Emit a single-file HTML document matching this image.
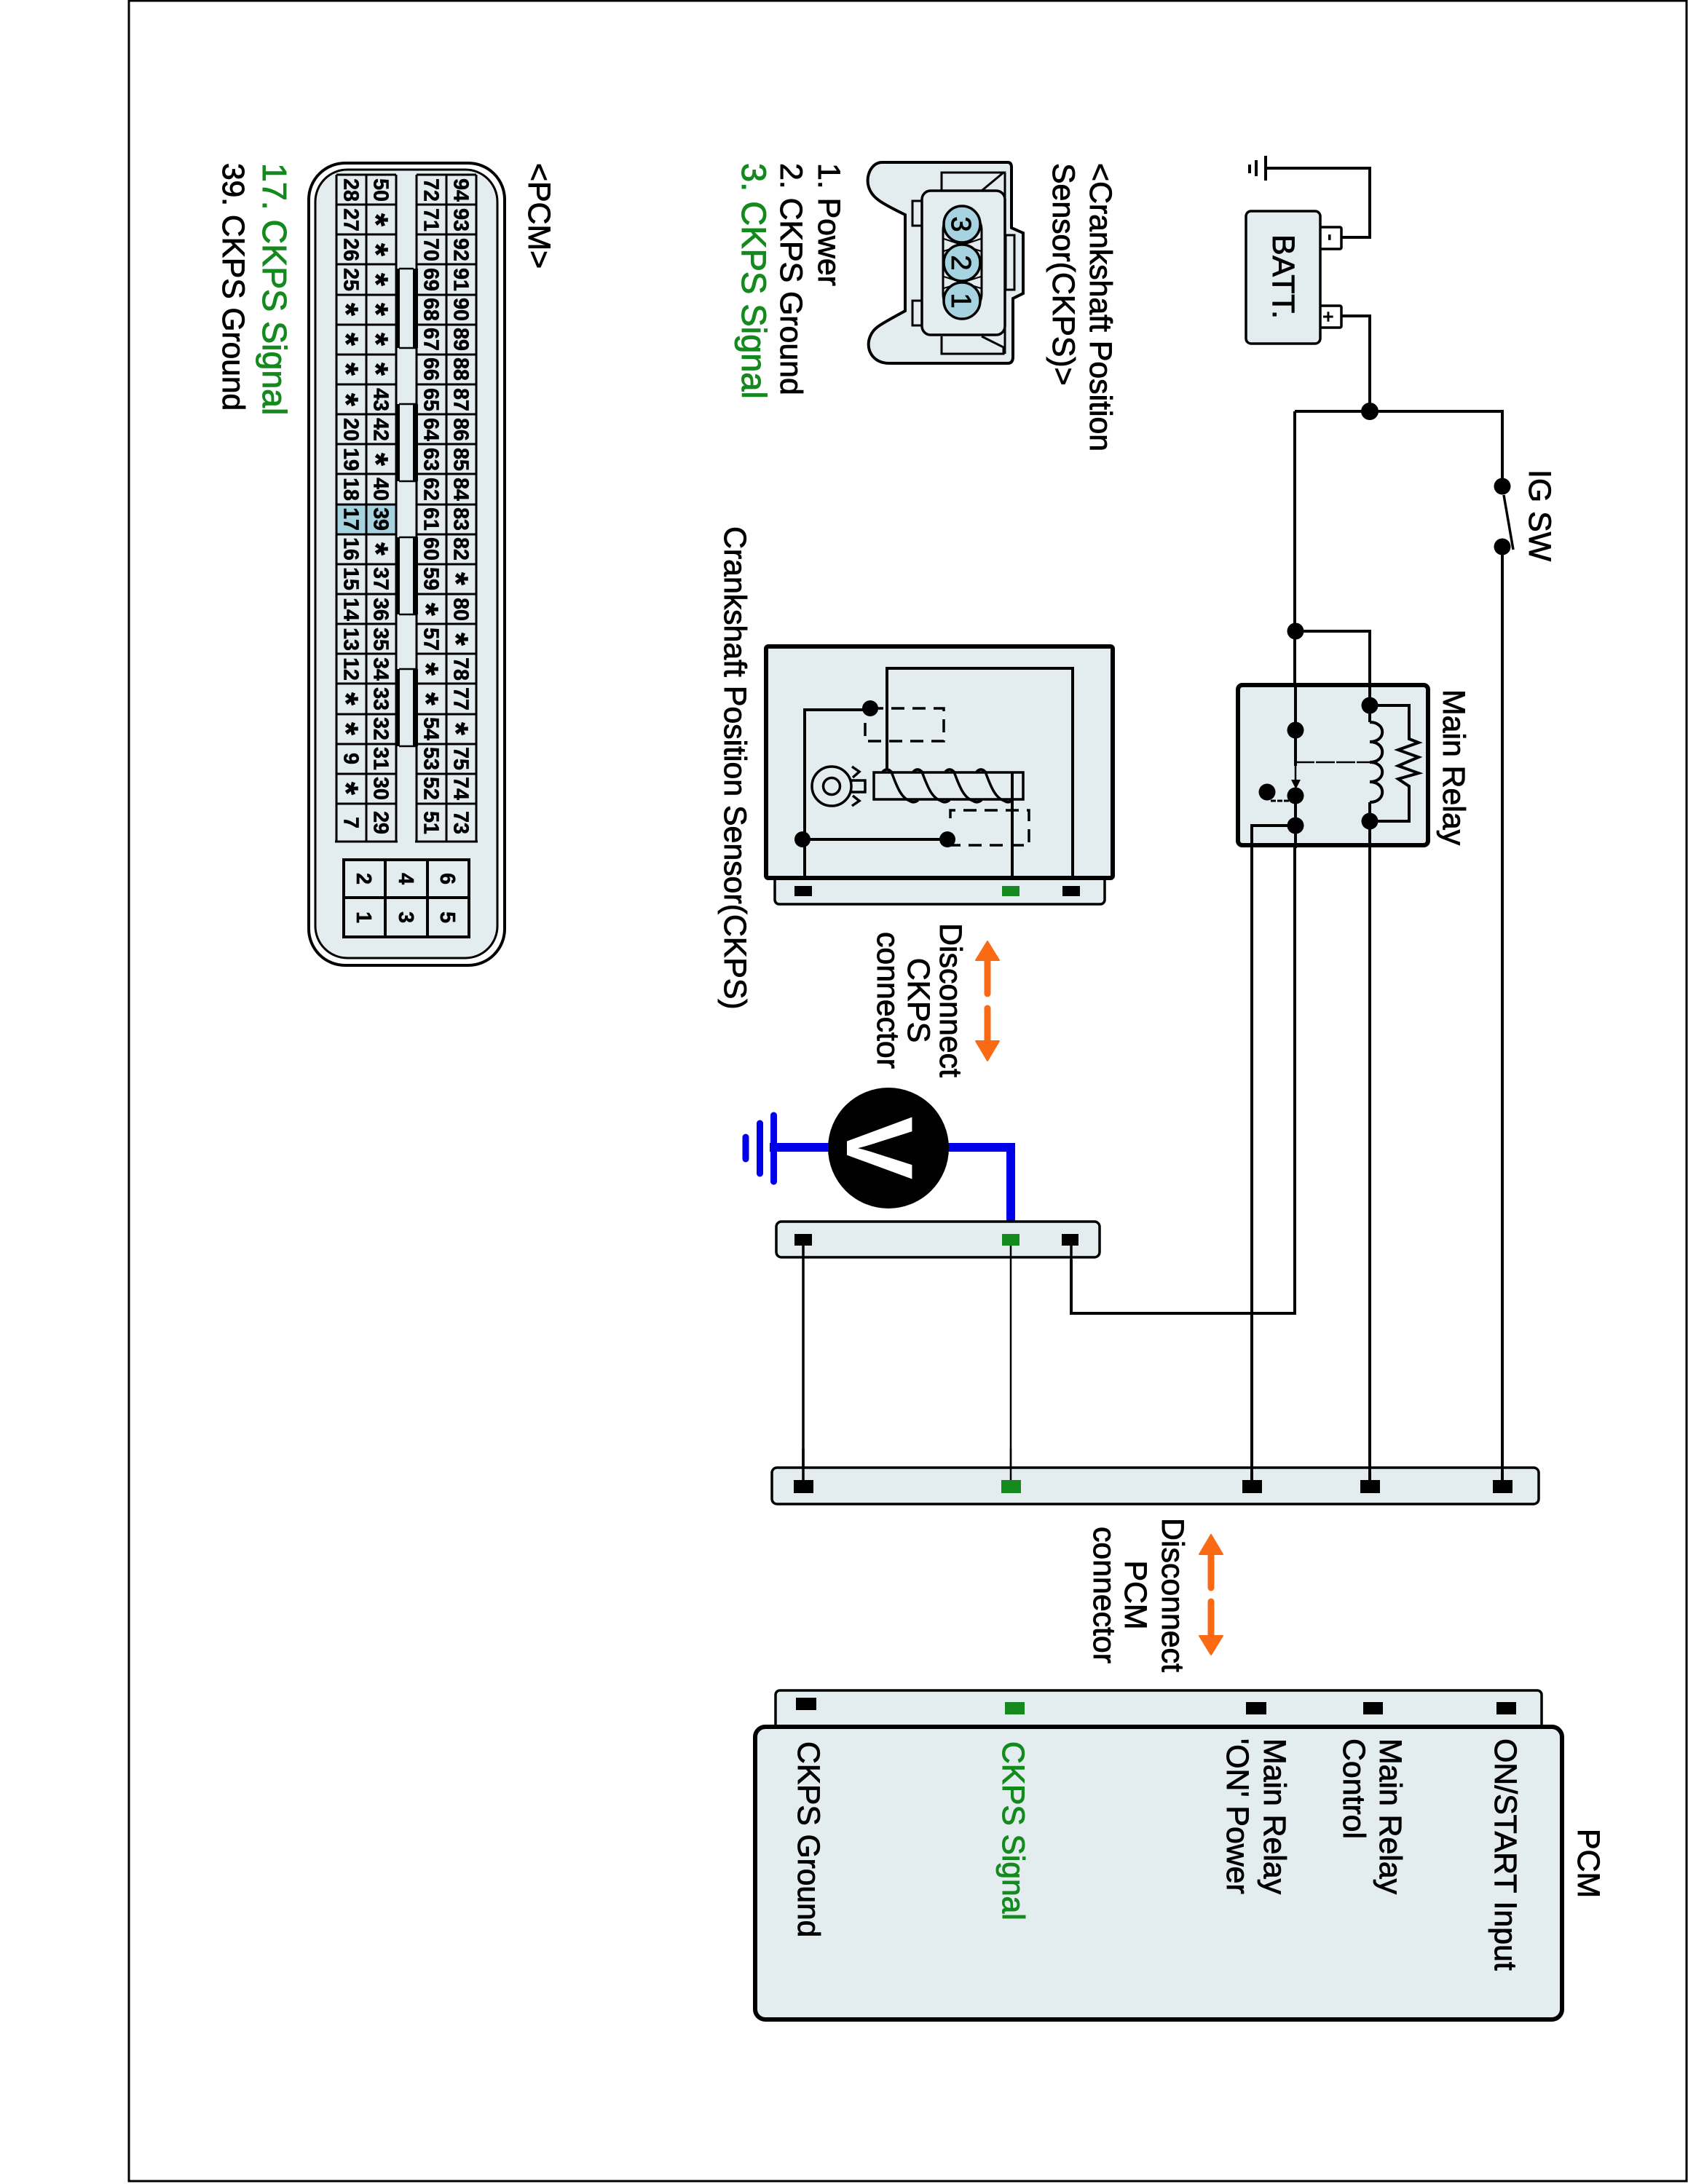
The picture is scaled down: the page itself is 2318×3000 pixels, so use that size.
<!DOCTYPE html>
<html><head><meta charset="utf-8"><style>
html,body{margin:0;padding:0;background:#fff}
svg{display:block}
text{font-family:"Liberation Sans",sans-serif;font-size:42.8px;fill:#000}
.s{stroke:#000;stroke-width:.9}
.g{fill:#148a1e;stroke:#148a1e;stroke-width:1}
.n{font-weight:bold;font-size:28.5px;text-anchor:middle;stroke:#000;stroke-width:.6}
.a{font-weight:bold;font-size:46px;text-anchor:middle;stroke:#000;stroke-width:.6}
.w{fill:none;stroke:#000;stroke-width:4}
.b{fill:#e3ecee;stroke:#000}
.d{fill:#000}
</style></head><body>
<svg xmlns="http://www.w3.org/2000/svg" width="2318" height="3000" viewBox="0 0 2318 3000">
<rect width="2318" height="3000" fill="#fff"/>
<rect x="177" y="1" width="2139" height="2995" fill="none" stroke="#000" stroke-width="3"/>

<!-- PCM pinout -->
<rect x="424" y="224" width="269" height="1102" rx="50" fill="#fff" stroke="#000" stroke-width="4"/>
<rect x="433" y="233" width="250" height="1083" rx="44" class="b" stroke-width="3"/>
<rect x="462" y="693" width="82" height="41" fill="#a6d3df"/>
<path d="M462 240H544M462 281H544M462 322H544M462 363H544M462 405H544M462 446H544M462 487H544M462 528H544M462 569H544M462 610H544M462 651H544M462 693H544M462 734H544M462 775H544M462 816H544M462 857H544M462 898H544M462 939H544M462 981H544M462 1022H544M462 1063H544M462 1104H544M460 1156H546M462 240V1156M503 240V1156M544 240V1156" class="w" style="stroke-width:3"/>
<path d="M572 240H654M572 281H654M572 322H654M572 363H654M572 405H654M572 446H654M572 487H654M572 528H654M572 569H654M572 610H654M572 651H654M572 693H654M572 734H654M572 775H654M572 816H654M572 857H654M572 898H654M572 939H654M572 981H654M572 1022H654M572 1063H654M572 1104H654M570 1156H656M572 240V1156M613 240V1156M654 240V1156" class="w" style="stroke-width:3"/>
<g class="d">
<rect x="543" y="369" width="6" height="109"/><rect x="567" y="369" width="7" height="109"/>
<rect x="543" y="555" width="6" height="106"/><rect x="567" y="555" width="7" height="106"/>
<rect x="543" y="738" width="6" height="106"/><rect x="567" y="738" width="7" height="106"/>
<rect x="543" y="919" width="6" height="106"/><rect x="567" y="919" width="7" height="106"/>
</g>
<path d="M548 369H568M548 478H572M548 555H572M548 661H572M548 738H572M548 844H572M548 919H572M548 1025H572" class="w" style="stroke-width:2.5"/>
<path d="M472 1181H644V1287H472ZM529 1181V1287M587 1181V1287M472 1233H644" class="w"/>

<!-- Sensor connector pinout -->
<path d="M1211 223H1384Q1389 223 1389 230V313L1405 320V403L1391 410V490Q1391 499 1384 499H1221C1197 499 1188 478 1195 462C1200 450 1208 446 1243 427V295C1208 278 1200 272 1195 262C1186 245 1196 223 1211 223Z" class="b" stroke-width="4"/>
<path d="M1293 262V237H1378L1348 262M1293 462V486H1378V477L1348 462M1380 237V486" class="w" style="stroke-width:3"/>
<rect x="1253" y="276" width="13" height="34" class="b" stroke-width="3"/>
<rect x="1253" y="413" width="13" height="34" class="b" stroke-width="3"/>
<rect x="1381" y="323" width="12" height="75" class="b" stroke-width="3"/>
<rect x="1266" y="262" width="114" height="198" rx="12" class="b" stroke-width="3.5"/>
<rect x="1295" y="290" width="53" height="140" rx="26" class="b" stroke-width="3"/>
<path d="M1296 328L1347 345M1347 328L1296 345M1296 380L1347 396M1347 380L1296 396" class="w" style="stroke-width:2"/>
<g fill="#a6d3df" stroke="#000" stroke-width="3.5">
<circle cx="1321" cy="308" r="25"/><circle cx="1321" cy="361" r="25"/><circle cx="1321" cy="413" r="25"/>
</g>

<!-- Wires upper -->
<path d="M1738 231H1881V326H1841M1841 434H1881V565M1778 565H2063V2040M1778 565V1804H1471V1730M1778 867H1881V2040M1719 2040V1134H1779" class="w"/>
<path d="M1738 214V248" class="w"/>
<path d="M1725 220V242" class="w"/>
<path d="M1716 226V238" class="w"/>
<rect x="2040" y="660" width="46" height="84" fill="#fff"/>
<path d="M2065 680L2078 755" class="w" style="stroke-width:3.5"/>
<rect x="1812" y="312" width="30" height="30" rx="2" fill="#fff" stroke="#000" stroke-width="3.5"/>
<rect x="1812" y="420" width="30" height="30" rx="2" fill="#fff" stroke="#000" stroke-width="3.5"/>
<rect x="1711" y="290" width="102" height="182" rx="7" class="b" stroke-width="3.5"/>

<!-- Relay -->
<rect x="1700" y="941" width="261" height="220" rx="6" class="b" stroke-width="6"/>
<path d="M1719 2040V1134H1779M1779 940V1052M1779 1090V1165M1881 940V992M1881 1102V1165" class="w"/>
<path d="M1881 992c23 0 23 27 0 27M1881 1019c23 0 23 28 0 28M1881 1047c23 0 23 27 0 27M1881 1074c23 0 23 28 0 28M1881 969H1935V1015L1948 1020L1920 1030L1948 1040L1920 1052L1948 1062L1920 1070L1935 1080V1128H1881" class="w"/>
<path d="M1779 1047H1885" class="w" style="stroke-width:2.5;stroke-dasharray:26 2"/>
<path d="M1779 1052V1072" class="w" style="stroke-width:2.5"/>
<path d="M1745 1100H1772" class="w" style="stroke-width:3;stroke-dasharray:7 2"/>
<path d="M1773 1071H1786L1779.500 1084Z" class="d"/>

<!-- Sensor -->
<rect x="1064" y="1190" width="453" height="52" rx="6" class="b" stroke-width="3.5"/>
<rect x="1052" y="888" width="476" height="318" rx="3" class="b" stroke-width="6"/>
<path d="M1105 1208V975H1195M1218 1058V918H1473V1208M1390 1061V1208M1105 1153H1301" class="w"/>
<path d="M1195 973H1296V1018H1188V985" class="w" style="stroke-width:3.5;stroke-dasharray:18 11"/>
<path d="M1301 1161H1413V1113H1305V1135" class="w" style="stroke-width:3.5;stroke-dasharray:18 11"/>
<rect x="1200" y="1061" width="205" height="37" fill="none" stroke="#000" stroke-width="3.500"/>
<path d="M1212 1060Q1218 1054 1224 1060C1232 1082 1238 1096 1249 1100Q1255 1104 1261 1099M1254 1060Q1260 1054 1266 1060C1274 1082 1280 1096 1292 1100Q1298 1104 1304 1099M1298 1060Q1304 1054 1310 1060C1318 1082 1324 1096 1336 1100Q1342 1104 1348 1099M1341 1060Q1347 1054 1353 1060C1361 1082 1367 1096 1379 1100Q1385 1104 1391 1099" class="w" style="stroke-width:3.5"/>
<circle cx="1142" cy="1080" r="27" fill="none" stroke="#000" stroke-width="3.5"/>
<circle cx="1142" cy="1080" r="11.500" fill="none" stroke="#000" stroke-width="3.5"/>
<path d="M1169 1074V1072H1188V1088H1169V1086M1170 1053L1180 1060L1171 1068M1171 1093L1180 1100L1170 1107" class="w" style="stroke-width:3.5"/>

<!-- Orange arrows -->
<g fill="#fa6a14" stroke="#fa6a14" stroke-linecap="round">
<path d="M1340 1319L1356 1293L1372 1319Z" stroke-linejoin="round" stroke-width="2"/>
<path d="M1356 1315V1365" stroke-width="9"/>
<path d="M1356 1385V1432" stroke-width="9"/>
<path d="M1340 1430L1356 1457L1372 1430Z" stroke-linejoin="round" stroke-width="2"/>
<path d="M1647 2135L1663 2108L1679 2135Z" stroke-linejoin="round" stroke-width="2"/>
<path d="M1663 2130V2181" stroke-width="9"/>
<path d="M1663 2200V2250" stroke-width="9"/>
<path d="M1647 2247L1663 2273L1679 2247Z" stroke-linejoin="round" stroke-width="2"/>
</g>

<!-- Voltmeter -->
<g fill="none" stroke="#0000e8">
<path d="M1057 1576H1140M1300 1576H1388V1697" stroke-width="12"/>
<path d="M1062.500 1532V1623" stroke-width="9" stroke-linecap="round"/>
<path d="M1043.500 1543V1612" stroke-width="9" stroke-linecap="round"/>
<path d="M1024 1562V1592" stroke-width="9" stroke-linecap="round"/>
</g>
<circle cx="1220" cy="1577" r="83" class="d"/>

<!-- Connectors -->
<rect x="1066" y="1678" width="444" height="49" rx="7" class="b" stroke-width="3.5"/>
<path d="M1103 1703V2040M1471 1703V1804" class="w" style="stroke-width:3.5"/>
<path d="M1388 1711V2040" class="w" style="stroke-width:2.5"/>
<rect x="1060" y="2016" width="1053" height="50" rx="7" class="b" stroke-width="3.5"/>
<path d="M1103 1990V2040" class="w" style="stroke-width:3.5"/>
<path d="M1388 1990V2040" class="w" style="stroke-width:2.5"/>
<path d="M1719 1990V2040M1881 1990V2040M2063 1990V2040" class="w"/>

<!-- PCM -->
<rect x="1065" y="2322" width="1052" height="60" rx="6" class="b" stroke-width="3.5"/>
<rect x="1037" y="2372" width="1108" height="402" rx="14" class="b" stroke-width="6"/>

<!-- Pins -->
<g class="d">
<rect x="1091" y="1217" width="24" height="14"/><rect x="1459" y="1217" width="24" height="14"/>
<rect x="1091" y="1695" width="24" height="16"/><rect x="1458" y="1695" width="23" height="16"/>
<rect x="1090" y="2033" width="27" height="18"/><rect x="1706" y="2033" width="27" height="18"/><rect x="1868" y="2033" width="27" height="18"/><rect x="2050" y="2033" width="27" height="18"/>
<rect x="1093" y="2332" width="28" height="17"/>
<rect x="1711" y="2338" width="28" height="17"/><rect x="1872" y="2338" width="27" height="17"/><rect x="2055" y="2338" width="27" height="17"/>
</g>
<g fill="#148a1e">
<rect x="1376" y="1217" width="24" height="14"/>
<rect x="1376" y="1695" width="24" height="16"/>
<rect x="1375" y="2033" width="27" height="18"/>
<rect x="1380" y="2338" width="27" height="17"/>
</g>

<!-- Nodes -->
<g class="d">
<circle cx="1881" cy="565" r="12"/><circle cx="2063" cy="668" r="11.500"/><circle cx="2063" cy="751" r="11.500"/>
<circle cx="1779" cy="867" r="11.500"/><circle cx="1779" cy="1003" r="11.500"/><circle cx="1779" cy="1093" r="11.500"/><circle cx="1779" cy="1134" r="11.500"/>
<circle cx="1740" cy="1088" r="11.500"/><circle cx="1881" cy="969" r="11.500"/><circle cx="1881" cy="1128" r="11.500"/>
<circle cx="1195" cy="973" r="11"/><circle cx="1102" cy="1153" r="11"/><circle cx="1301" cy="1153" r="11"/>
</g>

<!-- All text, rotated 90deg: x = page y, y = -page x -->
<g transform="rotate(90)">
<text class="s" x="224" y="-726">&lt;PCM&gt;</text>
<text class="g" x="224" y="-361" style="font-size:46.500px">17. CKPS Signal</text>
<text class="s" x="224" y="-306" style="font-size:42.500px">39. CKPS Ground</text>

<text class="s" x="224" y="-1497">&lt;Crankshaft Position</text>
<text class="s" x="224" y="-1446">Sensor(CKPS)&gt;</text>
<text class="s" x="224" y="-1124">1. Power</text>
<text class="s" x="224" y="-1072">2. CKPS Ground</text>
<text class="g" x="224" y="-1019" style="font-size:47px">3. CKPS Signal</text>
<text class="s" x="723" y="-995">Crankshaft Position Sensor(CKPS)</text>
<text class="s" x="947" y="-1982">Main Relay</text>
<text class="s" x="645" y="-2100">IG SW</text>
<text class="s" x="322" y="-1748" textLength="116" lengthAdjust="spacing" style="font-size:43px">BATT.</text>
<text x="326" y="-1818" style="font-weight:bold;font-size:30px;text-anchor:middle">-</text>
<text x="435" y="-1815" style="font-weight:bold;font-size:27px;text-anchor:middle">+</text>

<text class="s" x="308" y="-1307" style="font-size:38px;text-anchor:middle">3</text>
<text class="s" x="361" y="-1307" style="font-size:38px;text-anchor:middle">2</text>
<text class="s" x="413" y="-1307" style="font-size:38px;text-anchor:middle">1</text>

<text class="s" x="1374" y="-1291" text-anchor="middle">Disconnect</text>
<text class="s" x="1374" y="-1247" text-anchor="middle">CKPS</text>
<text class="s" x="1374" y="-1205" text-anchor="middle">connector</text>
<text class="s" x="2191" y="-1596" text-anchor="middle">Disconnect</text>
<text class="s" x="2191" y="-1545" text-anchor="middle">PCM</text>
<text class="s" x="2191" y="-1502" text-anchor="middle">connector</text>

<text x="1577" y="-1163" style="font-weight:bold;font-size:130px;text-anchor:middle;fill:#fff">V</text>

<text class="s" x="2512" y="-2167">PCM</text>
<text class="s" x="2388" y="-2053">ON/START Input</text>
<text class="s" x="2388" y="-1895">Main Relay</text>
<text class="s" x="2388" y="-1845">Control</text>
<text class="s" x="2388" y="-1736">Main Relay</text>
<text class="s" x="2388" y="-1685">'ON' Power</text>
<text class="g" x="2392" y="-1377" style="font-size:42.500px">CKPS Signal</text>
<text class="s" x="2392" y="-1096" style="font-size:42.500px">CKPS Ground</text>

<!-- column 94-73 -->
<text class="n" x="261" y="-623.500">94</text><text class="n" x="302" y="-623.500">93</text><text class="n" x="343" y="-623.500">92</text><text class="n" x="384" y="-623.500">91</text><text class="n" x="425" y="-623.500">90</text><text class="n" x="466" y="-623.500">89</text><text class="n" x="507" y="-623.500">88</text><text class="n" x="549" y="-623.500">87</text><text class="n" x="590" y="-623.500">86</text><text class="n" x="631" y="-623.500">85</text><text class="n" x="672" y="-623.500">84</text><text class="n" x="713" y="-623.500">83</text><text class="n" x="754" y="-623.500">82</text><text class="a" x="795" y="-610.500">*</text><text class="n" x="837" y="-623.500">80</text><text class="a" x="878" y="-610.500">*</text><text class="n" x="919" y="-623.500">78</text><text class="n" x="960" y="-623.500">77</text><text class="a" x="1001" y="-610.500">*</text><text class="n" x="1042" y="-623.500">75</text><text class="n" x="1083" y="-623.500">74</text><text class="n" x="1130" y="-623.500">73</text>
<!-- column 72-51 -->
<text class="n" x="261" y="-582.500">72</text><text class="n" x="302" y="-582.500">71</text><text class="n" x="343" y="-582.500">70</text><text class="n" x="384" y="-582.500">69</text><text class="n" x="425" y="-582.500">68</text><text class="n" x="466" y="-582.500">67</text><text class="n" x="507" y="-582.500">66</text><text class="n" x="549" y="-582.500">65</text><text class="n" x="590" y="-582.500">64</text><text class="n" x="631" y="-582.500">63</text><text class="n" x="672" y="-582.500">62</text><text class="n" x="713" y="-582.500">61</text><text class="n" x="754" y="-582.500">60</text><text class="n" x="795" y="-582.500">59</text><text class="a" x="837" y="-569.500">*</text><text class="n" x="878" y="-582.500">57</text><text class="a" x="919" y="-569.500">*</text><text class="a" x="960" y="-569.500">*</text><text class="n" x="1001" y="-582.500">54</text><text class="n" x="1042" y="-582.500">53</text><text class="n" x="1083" y="-582.500">52</text><text class="n" x="1130" y="-582.500">51</text>
<!-- column 50-29 -->
<text class="n" x="261" y="-513.500">50</text><text class="a" x="302" y="-500.500">*</text><text class="a" x="343" y="-500.500">*</text><text class="a" x="384" y="-500.500">*</text><text class="a" x="425" y="-500.500">*</text><text class="a" x="466" y="-500.500">*</text><text class="a" x="507" y="-500.500">*</text><text class="n" x="549" y="-513.500">43</text><text class="n" x="590" y="-513.500">42</text><text class="a" x="631" y="-500.500">*</text><text class="n" x="672" y="-513.500">40</text><text class="n" x="713" y="-513.500">39</text><text class="a" x="754" y="-500.500">*</text><text class="n" x="795" y="-513.500">37</text><text class="n" x="837" y="-513.500">36</text><text class="n" x="878" y="-513.500">35</text><text class="n" x="919" y="-513.500">34</text><text class="n" x="960" y="-513.500">33</text><text class="n" x="1001" y="-513.500">32</text><text class="n" x="1042" y="-513.500">31</text><text class="n" x="1083" y="-513.500">30</text><text class="n" x="1130" y="-513.500">29</text>
<!-- column 28-7 -->
<text class="n" x="261" y="-472.500">28</text><text class="n" x="302" y="-472.500">27</text><text class="n" x="343" y="-472.500">26</text><text class="n" x="384" y="-472.500">25</text><text class="a" x="425" y="-459.500">*</text><text class="a" x="466" y="-459.500">*</text><text class="a" x="507" y="-459.500">*</text><text class="a" x="549" y="-459.500">*</text><text class="n" x="590" y="-472.500">20</text><text class="n" x="631" y="-472.500">19</text><text class="n" x="672" y="-472.500">18</text><text class="n" x="713" y="-472.500">17</text><text class="n" x="754" y="-472.500">16</text><text class="n" x="795" y="-472.500">15</text><text class="n" x="837" y="-472.500">14</text><text class="n" x="878" y="-472.500">13</text><text class="n" x="919" y="-472.500">12</text><text class="a" x="960" y="-459.500">*</text><text class="a" x="1001" y="-459.500">*</text><text class="n" x="1042" y="-472.500">9</text><text class="a" x="1083" y="-459.500">*</text><text class="n" x="1130" y="-472.500">7</text>
<!-- power pins -->
<text class="n" x="1207" y="-490">2</text><text class="n" x="1260" y="-490">1</text>
<text class="n" x="1207" y="-548">4</text><text class="n" x="1260" y="-548">3</text>
<text class="n" x="1207" y="-605">6</text><text class="n" x="1260" y="-605">5</text>
</g>
</svg>
</body></html>
